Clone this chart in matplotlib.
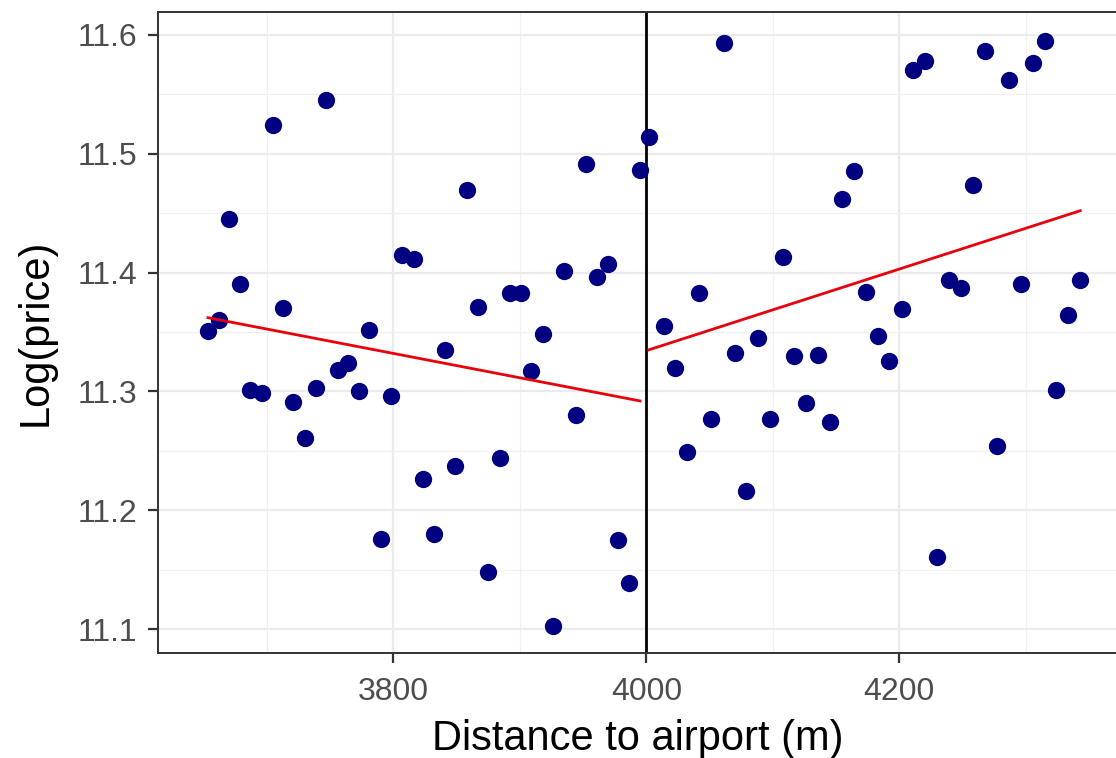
import numpy as np
import matplotlib
matplotlib.use('Agg')
import matplotlib.pyplot as plt
from matplotlib.ticker import MultipleLocator

# distance to airport (m) and log price
left_dist = [3653.5, 3662, 3670, 3679, 3687, 3696, 3705, 3713, 3721, 3730,
             3739, 3747, 3756, 3764, 3773, 3781, 3790, 3798.5, 3807, 3816,
             3823.5, 3832, 3841, 3849, 3858, 3867, 3875, 3884, 3892, 3901,
             3909, 3918, 3926.5, 3935, 3944, 3952, 3961, 3970, 3977.5, 3986,
             3995]
left_price = [11.351, 11.360, 11.445, 11.390, 11.301, 11.299, 11.524, 11.370,
              11.291, 11.261, 11.303, 11.545, 11.318, 11.324, 11.300, 11.352,
              11.176, 11.296, 11.415, 11.411, 11.226, 11.180, 11.335, 11.237,
              11.469, 11.371, 11.148, 11.244, 11.383, 11.383, 11.317, 11.348,
              11.103, 11.401, 11.280, 11.491, 11.396, 11.407, 11.175, 11.139,
              11.486]

right_dist = [4002, 4014, 4023, 4032, 4042, 4051, 4061, 4070, 4079, 4088.5,
              4098, 4108, 4116.7, 4126, 4136, 4145, 4154.5, 4164, 4173.5, 4183,
              4192, 4202, 4211, 4220.5, 4230, 4239, 4249, 4258, 4268, 4277,
              4286.6, 4296, 4305.6, 4315, 4324, 4333.6, 4343]
right_price = [11.514, 11.355, 11.320, 11.249, 11.383, 11.277, 11.593, 11.332,
               11.216, 11.345, 11.277, 11.413, 11.330, 11.290, 11.331, 11.274,
               11.462, 11.485, 11.384, 11.347, 11.326, 11.369, 11.570, 11.578,
               11.161, 11.394, 11.387, 11.474, 11.586, 11.254, 11.562, 11.390,
               11.576, 11.595, 11.301, 11.364, 11.394]

# fitted log price at the two ends of each side
left_fit = [11.362, 11.292]
right_fit = [11.335, 11.452]

cutoff = 4000

plt.rcParams['font.family'] = ['Liberation Sans', 'DejaVu Sans']
plt.rcParams['xtick.labelsize'] = 23
plt.rcParams['ytick.labelsize'] = 23
plt.rcParams['axes.labelsize'] = 30

fig = plt.figure(figsize=(11.16, 7.58), dpi=100)
ax = fig.add_axes([0.1416, 0.1385, 0.8604, 0.8455])

# theme_bw style grid
ax.xaxis.set_major_locator(MultipleLocator(200))
ax.xaxis.set_minor_locator(MultipleLocator(100))
ax.yaxis.set_major_locator(MultipleLocator(0.1))
ax.yaxis.set_minor_locator(MultipleLocator(0.05))
ax.grid(which='major', color='#EBEBEB', linewidth=1.6)
ax.grid(which='minor', color='#F0F0F0', linewidth=0.9)
ax.set_axisbelow(True)

ax.scatter(left_dist, left_price, s=155, color='#000080', zorder=3,
           linewidths=0)
ax.scatter(right_dist, right_price, s=155, color='#000080', zorder=3,
           linewidths=0)

# linear fits on each side of the cutoff
ax.plot([min(left_dist), max(left_dist)], left_fit, color='#E8000B',
        linewidth=2.0, zorder=4)
ax.plot([min(right_dist), max(right_dist)], right_fit, color='#E8000B',
        linewidth=2.0, zorder=4)

ax.axvline(cutoff, color='black', linewidth=2.0, zorder=2)

ax.set_xlim(3614, 4373)
ax.set_ylim(11.08, 11.619)

ax.set_xlabel('Distance to airport (m)', labelpad=9)
ax.set_ylabel('Log(price)', labelpad=16)

for sp in ax.spines.values():
    sp.set_color('#333333')
    sp.set_linewidth(1.4)
ax.tick_params(which='major', length=7, width=1.6, color='#333333',
               labelcolor='#4D4D4D')
ax.tick_params(axis='x', which='major', pad=10)
ax.tick_params(axis='y', which='major', pad=8)
ax.tick_params(which='minor', length=0)

fig.savefig('out.png', dpi=100)
